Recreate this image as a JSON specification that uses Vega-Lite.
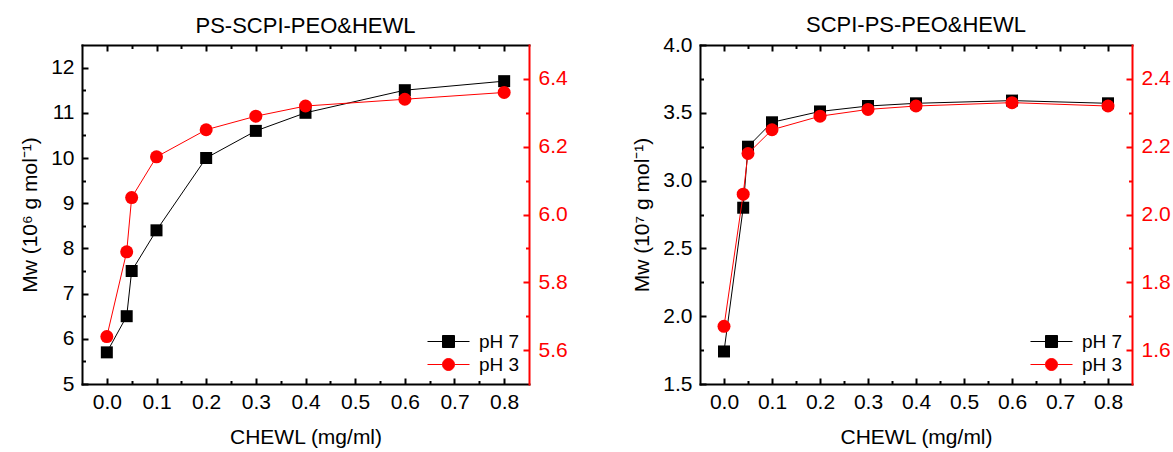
{
  "$schema": "https://vega.github.io/schema/vega-lite/v6.json",
  "padding": {"left": 19, "top": 14, "right": 0, "bottom": 0},
  "background": "white",
  "spacing": 63,
  "config": {
    "view": {"stroke": null},
    "font": "Liberation Sans",
    "axis": {
      "grid": false,
      "labelFont": "Liberation Sans",
      "titleFont": "Liberation Sans",
      "labelFontSize": 21,
      "titleFontSize": 21,
      "titleFontWeight": "normal",
      "labelColor": "black",
      "titleColor": "black",
      "domainColor": "black",
      "tickColor": "black",
      "domainWidth": 2,
      "tickWidth": 2,
      "domainCap": "square",
      "labelOverlap": false,
      "labelFlush": false
    }
  },
  "datasets": {
    "a7": [
      {"c": 0, "mw": 5.7, "series": "pH 7"},
      {"c": 0.04, "mw": 6.5, "series": "pH 7"},
      {"c": 0.05, "mw": 7.5, "series": "pH 7"},
      {"c": 0.1, "mw": 8.4, "series": "pH 7"},
      {"c": 0.2, "mw": 10.0, "series": "pH 7"},
      {"c": 0.3, "mw": 10.6, "series": "pH 7"},
      {"c": 0.4, "mw": 11.0, "series": "pH 7"},
      {"c": 0.6, "mw": 11.5, "series": "pH 7"},
      {"c": 0.8, "mw": 11.7, "series": "pH 7"}
    ],
    "a3": [
      {"c": 0, "mw": 5.64, "series": "pH 3"},
      {"c": 0.04, "mw": 5.89, "series": "pH 3"},
      {"c": 0.05, "mw": 6.05, "series": "pH 3"},
      {"c": 0.1, "mw": 6.17, "series": "pH 3"},
      {"c": 0.2, "mw": 6.25, "series": "pH 3"},
      {"c": 0.3, "mw": 6.29, "series": "pH 3"},
      {"c": 0.4, "mw": 6.32, "series": "pH 3"},
      {"c": 0.6, "mw": 6.34, "series": "pH 3"},
      {"c": 0.8, "mw": 6.36, "series": "pH 3"}
    ],
    "b7": [
      {"c": 0, "mw": 1.74, "series": "pH 7"},
      {"c": 0.04, "mw": 2.8, "series": "pH 7"},
      {"c": 0.05, "mw": 3.25, "series": "pH 7"},
      {"c": 0.1, "mw": 3.43, "series": "pH 7"},
      {"c": 0.2, "mw": 3.51, "series": "pH 7"},
      {"c": 0.3, "mw": 3.55, "series": "pH 7"},
      {"c": 0.4, "mw": 3.57, "series": "pH 7"},
      {"c": 0.6, "mw": 3.59, "series": "pH 7"},
      {"c": 0.8, "mw": 3.57, "series": "pH 7"}
    ],
    "b3": [
      {"c": 0, "mw": 1.67, "series": "pH 3"},
      {"c": 0.04, "mw": 2.06, "series": "pH 3"},
      {"c": 0.05, "mw": 2.18, "series": "pH 3"},
      {"c": 0.1, "mw": 2.25, "series": "pH 3"},
      {"c": 0.2, "mw": 2.29, "series": "pH 3"},
      {"c": 0.3, "mw": 2.31, "series": "pH 3"},
      {"c": 0.4, "mw": 2.32, "series": "pH 3"},
      {"c": 0.6, "mw": 2.33, "series": "pH 3"},
      {"c": 0.8, "mw": 2.32, "series": "pH 3"}
    ]
  },
  "resolve": {"scale": {"color": "independent"}, "legend": {"color": "independent"}},
  "hconcat": [
    {
      "width": 447,
      "height": 339,
      "title": {"text": "PS-SCPI-PEO&HEWL", "font": "Liberation Sans", "fontSize": 22, "fontWeight": "normal", "color": "black", "anchor": "middle", "frame": "group", "baseline": "alphabetic", "offset": -11},
      "resolve": {"scale": {"y": "independent"}, "axis": {"x": "independent", "y": "independent"}},
      "layer": [
        {
          "data": {"name": "a7"},
          "encoding": {
            "x": {"field": "c", "type": "quantitative", "scale": {"domain": [-0.05, 0.85], "nice": false, "zero": false},
              "axis": {"orient": "bottom", "values": [0, 0.05, 0.1, 0.15, 0.2, 0.25, 0.3, 0.35, 0.4, 0.45, 0.5, 0.55, 0.6, 0.65, 0.7, 0.75, 0.8],
                "labelExpr": "abs(datum.value*10 - round(datum.value*10)) < 0.001 ? format(datum.value, '.1f') : ''",
                "tickSize": {"condition": {"test": "abs(datum.value*10 - round(datum.value*10)) < 0.001", "value": -6}, "value": -3.5},
                "labelPadding": 13, "title": "CHEWL (mg/ml)", "titlePadding": 12}},
            "y": {"field": "mw", "type": "quantitative", "scale": {"domain": [5, 12.5], "nice": false, "zero": false},
              "axis": {"orient": "left", "values": [5, 5.5, 6, 6.5, 7, 7.5, 8, 8.5, 9, 9.5, 10, 10.5, 11, 11.5, 12],
                "labelExpr": "abs(datum.value - round(datum.value)) < 0.001 ? format(datum.value, 'd') : ''",
                "tickSize": {"condition": {"test": "abs(datum.value - round(datum.value)) < 0.001", "value": -6}, "value": -3.5},
                "labelPadding": 14, "title": "Mw (10⁶ g mol⁻¹)", "titlePadding": 10}},
            "color": {"field": "series", "type": "nominal", "scale": {"domain": ["pH 7", "pH 3"], "range": ["black", "red"]},
              "legend": {"title": null, "orient": "bottom-right", "offset": 9, "padding": 0, "labelFont": "Liberation Sans", "labelFontSize": 19, "labelColor": "black", "symbolSize": 144, "symbolOffset": 15, "labelOffset": 21, "rowPadding": 3,
                "encode": {"symbols": {"update": {
                  "shape": {"signal": "datum.value === 'pH 7' ? 'M-3.5,0H-1M1,0H3.5M-1,-1H1V1H-1Z' : 'M-3.5,0H-1M1,0H3.5M-1,0A1,1,0,1,0,1,0A1,1,0,1,0,-1,0Z'"},
                  "fill": {"signal": "datum.value === 'pH 7' ? 'black' : 'red'"},
                  "stroke": {"signal": "datum.value === 'pH 7' ? 'black' : 'red'"},
                  "strokeWidth": {"value": 1},
                  "opacity": {"value": 1}
                }}}}}
          },
          "layer": [
            {"mark": {"type": "line", "strokeWidth": 1}},
            {"mark": {"type": "point", "shape": "square", "size": 144, "filled": true, "opacity": 1}}
          ]
        },
        {
          "data": {"name": "a3"},
          "encoding": {
            "x": {"field": "c", "type": "quantitative", "scale": {"domain": [-0.05, 0.85], "nice": false, "zero": false}, "axis": null},
            "y": {"field": "mw", "type": "quantitative", "scale": {"domain": [5.5, 6.5], "nice": false, "zero": false},
              "axis": {"orient": "right", "values": [5.6, 5.7, 5.8, 5.9, 6.0, 6.1, 6.2, 6.3, 6.4],
                "labelExpr": "abs(datum.value*5 - round(datum.value*5)) < 0.001 ? format(datum.value, '.1f') : ''",
                "tickSize": {"condition": {"test": "abs(datum.value*5 - round(datum.value*5)) < 0.001", "value": -6}, "value": -3.5},
                "labelPadding": 15, "title": null, "labelColor": "red", "domainColor": "red", "tickColor": "red"}}
          },
          "layer": [
            {"mark": {"type": "line", "strokeWidth": 1, "color": "red"}},
            {"mark": {"type": "point", "shape": "circle", "size": 169, "filled": true, "opacity": 1, "color": "red"}}
          ]
        },
        {
          "data": {"name": "a7"},
          "mark": {"type": "point", "opacity": 0},
          "encoding": {
            "x": {"field": "c", "type": "quantitative", "scale": {"domain": [-0.05, 0.85], "nice": false, "zero": false},
              "axis": {"orient": "top", "values": [0, 0.05, 0.1, 0.15, 0.2, 0.25, 0.3, 0.35, 0.4, 0.45, 0.5, 0.55, 0.6, 0.65, 0.7, 0.75, 0.8],
                "labels": false, "domain": true, "title": null,
                "tickSize": {"condition": {"test": "abs(datum.value*10 - round(datum.value*10)) < 0.001", "value": -6}, "value": -3.5}}},
            "y": {"field": "mw", "type": "quantitative", "scale": {"domain": [5, 12.5], "nice": false, "zero": false}, "axis": null}
          }
        }
      ]
    },
    {
      "width": 432,
      "height": 339,
      "title": {"text": "SCPI-PS-PEO&HEWL", "font": "Liberation Sans", "fontSize": 22, "fontWeight": "normal", "color": "black", "anchor": "middle", "frame": "group", "baseline": "alphabetic", "offset": -20},
      "resolve": {"scale": {"y": "independent"}, "axis": {"x": "independent", "y": "independent"}},
      "layer": [
        {
          "data": {"name": "b7"},
          "encoding": {
            "x": {"field": "c", "type": "quantitative", "scale": {"domain": [-0.05, 0.85], "nice": false, "zero": false},
              "axis": {"orient": "bottom", "values": [0, 0.05, 0.1, 0.15, 0.2, 0.25, 0.3, 0.35, 0.4, 0.45, 0.5, 0.55, 0.6, 0.65, 0.7, 0.75, 0.8],
                "labelExpr": "abs(datum.value*10 - round(datum.value*10)) < 0.001 ? format(datum.value, '.1f') : ''",
                "tickSize": {"condition": {"test": "abs(datum.value*10 - round(datum.value*10)) < 0.001", "value": -6}, "value": -3.5},
                "labelPadding": 13, "title": "CHEWL (mg/ml)", "titlePadding": 12}},
            "y": {"field": "mw", "type": "quantitative", "scale": {"domain": [1.5, 4.0], "nice": false, "zero": false},
              "axis": {"orient": "left", "values": [1.5, 1.75, 2.0, 2.25, 2.5, 2.75, 3.0, 3.25, 3.5, 3.75, 4.0],
                "labelExpr": "abs(datum.value*2 - round(datum.value*2)) < 0.001 ? format(datum.value, '.1f') : ''",
                "tickSize": {"condition": {"test": "abs(datum.value*2 - round(datum.value*2)) < 0.001", "value": -6}, "value": -3.5},
                "labelPadding": 14, "title": "Mw (10⁷ g mol⁻¹)", "titlePadding": 10}},
            "color": {"field": "series", "type": "nominal", "scale": {"domain": ["pH 7", "pH 3"], "range": ["black", "red"]},
              "legend": {"title": null, "orient": "bottom-right", "offset": 9, "padding": 0, "labelFont": "Liberation Sans", "labelFontSize": 19, "labelColor": "black", "symbolSize": 144, "symbolOffset": 15, "labelOffset": 21, "rowPadding": 3,
                "encode": {"symbols": {"update": {
                  "shape": {"signal": "datum.value === 'pH 7' ? 'M-3.5,0H-1M1,0H3.5M-1,-1H1V1H-1Z' : 'M-3.5,0H-1M1,0H3.5M-1,0A1,1,0,1,0,1,0A1,1,0,1,0,-1,0Z'"},
                  "fill": {"signal": "datum.value === 'pH 7' ? 'black' : 'red'"},
                  "stroke": {"signal": "datum.value === 'pH 7' ? '#333333' : 'red'"},
                  "strokeWidth": {"value": 1},
                  "opacity": {"value": 1}
                }}}}}
          },
          "layer": [
            {"mark": {"type": "line", "strokeWidth": 1, "color": "#222222"}},
            {"mark": {"type": "point", "shape": "square", "size": 144, "filled": true, "opacity": 1}}
          ]
        },
        {
          "data": {"name": "b3"},
          "encoding": {
            "x": {"field": "c", "type": "quantitative", "scale": {"domain": [-0.05, 0.85], "nice": false, "zero": false}, "axis": null},
            "y": {"field": "mw", "type": "quantitative", "scale": {"domain": [1.5, 2.5], "nice": false, "zero": false},
              "axis": {"orient": "right", "values": [1.6, 1.7, 1.8, 1.9, 2.0, 2.1, 2.2, 2.3, 2.4],
                "labelExpr": "abs(datum.value*5 - round(datum.value*5)) < 0.001 ? format(datum.value, '.1f') : ''",
                "tickSize": {"condition": {"test": "abs(datum.value*5 - round(datum.value*5)) < 0.001", "value": -6}, "value": -3.5},
                "labelPadding": 15, "title": null, "labelColor": "red", "domainColor": "red", "tickColor": "red"}}
          },
          "layer": [
            {"mark": {"type": "line", "strokeWidth": 1, "color": "red"}},
            {"mark": {"type": "point", "shape": "circle", "size": 169, "filled": true, "opacity": 1, "color": "red"}}
          ]
        },
        {
          "data": {"name": "b7"},
          "mark": {"type": "point", "opacity": 0},
          "encoding": {
            "x": {"field": "c", "type": "quantitative", "scale": {"domain": [-0.05, 0.85], "nice": false, "zero": false},
              "axis": {"orient": "top", "values": [0, 0.05, 0.1, 0.15, 0.2, 0.25, 0.3, 0.35, 0.4, 0.45, 0.5, 0.55, 0.6, 0.65, 0.7, 0.75, 0.8],
                "labels": false, "domain": true, "title": null,
                "tickSize": {"condition": {"test": "abs(datum.value*10 - round(datum.value*10)) < 0.001", "value": -6}, "value": -3.5}}},
            "y": {"field": "mw", "type": "quantitative", "scale": {"domain": [1.5, 4.0], "nice": false, "zero": false}, "axis": null}
          }
        }
      ]
    }
  ]
}
